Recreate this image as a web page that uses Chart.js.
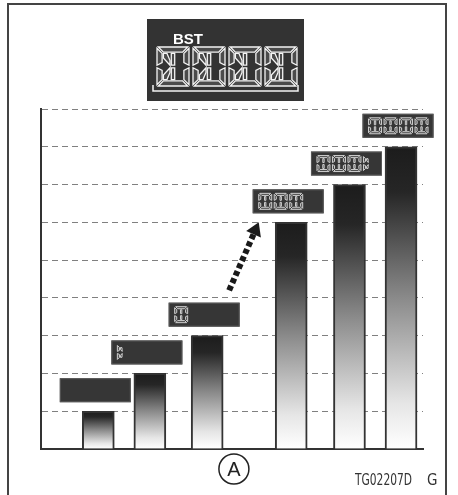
<!DOCTYPE html>
<html>
<head>
<meta charset="utf-8">
<script src="https://cdn.jsdelivr.net/npm/chart.js@4.4.0/dist/chart.umd.min.js"></script>
<style>
  html, body { margin: 0; padding: 0; background: #fff; }
  #wrap { width: 458px; height: 495px; position: relative; }
</style>
</head>
<body>
<div id="wrap"><canvas id="chart" width="458" height="495"></canvas></div>
<script>
// ===== data =====
const positions = [3.0, 5.7, 8.7, 13.1, 16.15, 18.85]; // bar centres along the x axis (0..20)
const counts = [1, 2, 3, 6, 7, 8];                     // bar heights (gridline units)
const readouts = ["", "p", "0", "000", "000p", "0000"]; // LCD digits shown above each bar
const headerText = "BST";
const headerDigits = "0000";
const markLabel = "A";
const figureCode = "TG02207D";
const figureSuffix = "G";
const arrowFrom = [9.85, 4.2];
const arrowTo = [11.4, 6.0];

// ===== LCD digit drawing =====
function digitShapes(x, y, w, h) {
  const t = Math.max(2, w * 0.16);
  const g = Math.max(1, w * 0.04);
  const mid = y + h / 2;
  const cx = x + w / 2;
  const cl = cx - t / 3 - g;
  return {
    a: [[x + g, y], [x + w - g, y], [x + w - g - t, y + t], [x + g + t, y + t]],
    d: [[x + g, y + h], [x + w - g, y + h], [x + w - g - t, y + h - t], [x + g + t, y + h - t]],
    f: [[x, y + g], [x + t, y + t + g], [x + t, mid - g - t / 2], [x, mid - g]],
    e: [[x, mid + g], [x + t, mid + g + t / 2], [x + t, y + h - t - g], [x, y + h - g]],
    b: [[x + w, y + g], [x + w - t, y + t + g], [x + w - t, mid - g - t / 2], [x + w, mid - g]],
    c: [[x + w, mid + g], [x + w - t, mid + g + t / 2], [x + w - t, y + h - t - g], [x + w, y + h - g]],
    j: [[cx - t / 3, y + t + g], [cx + t / 3, y + t + g], [cx + t / 3, mid - g], [cx - t / 3, mid - g]],
    m: [[cx - t / 3, mid + g], [cx + t / 3, mid + g], [cx + t / 3, y + h - t - g], [cx - t / 3, y + h - t - g]],
    h: [[x + t + g, y + t + g], [x + t + g + 0.7 * t, y + t + g], [cl, mid - g - 0.9 * t], [cl, mid - g], [x + t + g, y + t + g + 0.9 * t]],
    l: [[x + t + g, y + h - t - g], [x + t + g + 0.7 * t, y + h - t - g], [cl, mid + g + 0.9 * t], [cl, mid + g], [x + t + g, y + h - t - g - 0.9 * t]]
  };
}

function drawDigit(ctx, ch, x, y, w, h, color, lw, small) {
  const shapes = digitShapes(x, y, w, h);
  let segs;
  if (ch === "0") segs = small ? "abcdefjm" : "abcdefjmhl";
  else segs = "fehl";
  ctx.save();
  ctx.strokeStyle = color;
  ctx.fillStyle = "rgba(255,255,255,0.12)";
  ctx.lineWidth = lw;
  ctx.lineJoin = "miter";
  for (const s of segs) {
    const pts = shapes[s];
    ctx.beginPath();
    ctx.moveTo(pts[0][0], pts[0][1]);
    for (let i = 1; i < pts.length; i++) ctx.lineTo(pts[i][0], pts[i][1]);
    ctx.closePath();
    ctx.fill();
    ctx.stroke();
  }
  ctx.restore();
}

// ===== overlay: frame, header display, readouts, arrow, labels =====
const overlay = {
  id: "overlay",
  afterDraw(chart) {
    const ctx = chart.ctx;
    const xs = chart.scales.x, ys = chart.scales.y;
    const area = chart.chartArea;

    // outer frame
    ctx.save();
    ctx.strokeStyle = "#444";
    ctx.lineWidth = 2;
    ctx.beginPath();
    ctx.moveTo(8, 495);
    ctx.lineTo(8, 4);
    ctx.lineTo(446, 4);
    ctx.lineTo(446, 495);
    ctx.stroke();
    ctx.restore();

    // header display
    ctx.save();
    ctx.fillStyle = "#333";
    ctx.fillRect(147, 19, 157, 82);
    ctx.fillStyle = "#fff";
    ctx.font = "bold 15px 'Liberation Sans', Arial, sans-serif";
    ctx.textBaseline = "alphabetic";
    ctx.fillText(headerText, 173, 44);
    for (let i = 0; i < headerDigits.length; i++) {
      drawDigit(ctx, headerDigits[i], 157 + i * 36, 47, 32, 39, "#f4f4f4", 1.3, false);
    }
    ctx.strokeStyle = "#f4f4f4";
    ctx.lineWidth = 1.5;
    ctx.beginPath();
    ctx.moveTo(153, 85);
    ctx.lineTo(153, 91);
    ctx.lineTo(298, 91);
    ctx.lineTo(298, 85);
    ctx.stroke();
    ctx.restore();

    // readout boxes over each bar
    const meta = chart.getDatasetMeta(0);
    meta.data.forEach((bar, i) => {
      const bw = 71, bh = 24;
      const left = bar.x - 3 - bw / 2;
      const top = bar.y - 9 - bh;
      ctx.save();
      ctx.fillStyle = "#363636";
      ctx.fillRect(left, top, bw, bh);
      ctx.strokeStyle = "#5a5a5a";
      ctx.lineWidth = 1;
      ctx.strokeRect(left + 0.5, top + 0.5, bw - 1, bh - 1);
      const txt = readouts[i];
      for (let k = 0; k < txt.length; k++) {
        drawDigit(ctx, txt[k], left + 6 + k * 15.5, top + 4, 13, 16, "#d0d0d0", 1, true);
      }
      ctx.restore();
    });

    // dashed arrow between the third and fourth bars
    const x1 = xs.getPixelForValue(arrowFrom[0]), y1 = ys.getPixelForValue(arrowFrom[1]);
    const x2 = xs.getPixelForValue(arrowTo[0]), y2 = ys.getPixelForValue(arrowTo[1]);
    const ang = Math.atan2(y2 - y1, x2 - x1);
    const headLen = 13, headW = 8;
    const bx = x2 - headLen * Math.cos(ang), by = y2 - headLen * Math.sin(ang);
    ctx.save();
    ctx.strokeStyle = "#1a1a1a";
    ctx.fillStyle = "#1a1a1a";
    ctx.lineWidth = 6;
    ctx.setLineDash([5, 3]);
    ctx.beginPath();
    ctx.moveTo(x1, y1);
    ctx.lineTo(bx, by);
    ctx.stroke();
    ctx.setLineDash([]);
    ctx.beginPath();
    ctx.moveTo(x2, y2);
    ctx.lineTo(bx + headW * Math.sin(ang), by - headW * Math.cos(ang));
    ctx.lineTo(bx - headW * Math.sin(ang), by + headW * Math.cos(ang));
    ctx.closePath();
    ctx.fill();
    ctx.restore();

    // circled mark under the axis
    const cxA = xs.getPixelForValue(arrowFrom[0] + 0.25);
    const cyA = area.bottom + 20;
    ctx.save();
    ctx.strokeStyle = "#222";
    ctx.lineWidth = 1.5;
    ctx.beginPath();
    ctx.arc(cxA, cyA, 15, 0, Math.PI * 2);
    ctx.stroke();
    ctx.fillStyle = "#222";
    ctx.font = "20px 'Liberation Sans', Arial, sans-serif";
    ctx.textAlign = "center";
    ctx.textBaseline = "middle";
    ctx.fillText(markLabel, cxA, cyA + 1);
    ctx.restore();

    // figure code
    ctx.save();
    ctx.fillStyle = "#333";
    ctx.font = "15px 'Liberation Sans Narrow', 'DejaVu Sans Condensed', sans-serif";
    ctx.textBaseline = "alphabetic";
    const w = ctx.measureText(figureCode).width;
    ctx.translate(355, 485);
    ctx.scale(57 / w, 1);
    ctx.fillText(figureCode, 0, 0);
    ctx.restore();
    ctx.save();
    ctx.fillStyle = "#333";
    ctx.font = "15px 'Liberation Sans Narrow', 'DejaVu Sans Condensed', sans-serif";
    ctx.fillText(figureSuffix, 427, 485);
    ctx.restore();
  }
};

// ===== chart =====
const ctx = document.getElementById("chart").getContext("2d");
new Chart(ctx, {
  type: "bar",
  data: {
    datasets: [{
      data: positions.map((x, i) => ({ x: x, y: counts[i] })),
      backgroundColor: (c) => {
        const chart = c.chart;
        if (!chart.chartArea || !c.raw) return "#333";
        const top = chart.scales.y.getPixelForValue(c.raw.y);
        const bottom = chart.scales.y.getPixelForValue(0);
        const g = chart.ctx.createLinearGradient(0, top, 0, bottom);
        g.addColorStop(0, "#1c1c1c");
        g.addColorStop(0.15, "#262626");
        g.addColorStop(0.5, "#8a8a8a");
        g.addColorStop(0.85, "#e6e6e6");
        g.addColorStop(1, "#ffffff");
        return g;
      },
      borderColor: "#333",
      borderWidth: 2,
      borderSkipped: "bottom",
      barThickness: 32
    }]
  },
  options: {
    responsive: false,
    animation: false,
    layout: { padding: { left: 41, right: 35, top: 109, bottom: 46 } },
    plugins: { legend: { display: false }, tooltip: { enabled: false } },
    scales: {
      x: {
        type: "linear",
        offset: false,
        min: 0,
        max: 20,
        grid: { display: false, drawTicks: false },
        ticks: { display: false },
        border: { display: true, color: "#333", width: 2 }
      },
      y: {
        min: 0,
        max: 9,
        ticks: { display: false, stepSize: 1 },
        grid: { color: "#808080", lineWidth: 1, drawTicks: false },
        border: { display: true, color: "#333", width: 2, dash: [6, 4] }
      }
    }
  },
  plugins: [overlay]
});
</script>
</body>
</html>
